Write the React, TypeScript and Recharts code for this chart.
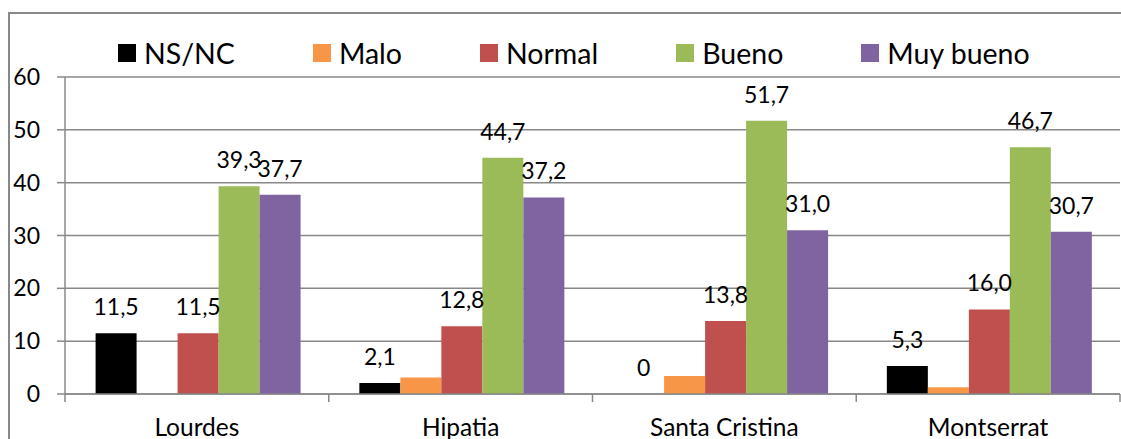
import { BarChart, Bar, XAxis, YAxis, CartesianGrid, Legend, LabelList } from "recharts";

const CATEGORIES = ["Lourdes", "Hipatia", "Santa Cristina", "Montserrat"];
const NS_NC = [11.5, 2.1, 0, 5.3];
const MALO = [0, 3.1, 3.4, 1.3];
const NORMAL = [11.5, 12.8, 13.8, 16.0];
const BUENO = [39.3, 44.7, 51.7, 46.7];
const MUY_BUENO = [37.7, 37.2, 31.0, 30.7];
const Y_TICKS = [0, 10, 20, 30, 40, 50, 60];

const SERIES = [
  { key: "nsnc", name: "NS/NC", values: NS_NC, color: "#000000", labels: true },
  { key: "malo", name: "Malo", values: MALO, color: "#F79646", labels: false },
  { key: "normal", name: "Normal", values: NORMAL, color: "#C0504D", labels: true },
  { key: "bueno", name: "Bueno", values: BUENO, color: "#9BBB59", labels: true },
  { key: "muybueno", name: "Muy bueno", values: MUY_BUENO, color: "#8064A2", labels: true },
];

const data = CATEGORIES.map((name, i) => {
  const row: Record<string, string | number> = { name };
  SERIES.forEach((s) => {
    row[s.key] = s.values[i];
  });
  return row;
});

const W = 1121;
const H = 439;
const FONT = "Lato, 'Liberation Sans', sans-serif";
const GRID = "#888888";
const AXIS_W = 65;
const RIGHT = 1;
const LEGEND_H = 30;
const BAND = (W - AXIS_W - RIGHT) / CATEGORIES.length;

const fmt = (v: any) => (Number(v) === 0 ? "0" : Number(v).toFixed(1).replace(".", ","));

// value labels drawn by hand so the zero bar still gets its "0"
const ValueLabel = (props: any) => {
  const { x, y, width, height, value } = props;
  if (value == null) return null;
  const top = Math.min(Number(y), Number(y) + Number(height || 0));
  return (
    <text x={Number(x) + Number(width) / 2} y={top - 18} textAnchor="middle" fill="#000" fontSize={23} fontFamily={FONT}>
      {fmt(value)}
    </text>
  );
};

const CategoryTick = (props: any) => {
  const { x, y, payload, index } = props;
  return (
    <g>
      <line x1={x - BAND / 2} x2={x - BAND / 2} y1={y} y2={y + 8} stroke={GRID} strokeWidth={1.5} />
      {index === CATEGORIES.length - 1 && (
        <line x1={x + BAND / 2} x2={x + BAND / 2} y1={y} y2={y + 8} stroke={GRID} strokeWidth={1.5} />
      )}
      <text x={x} y={y + 42} textAnchor="middle" fill="#000" fontSize={24.5} fontFamily={FONT}>
        {payload.value}
      </text>
    </g>
  );
};

const LegendContent = () => (
  <div style={{ display: "flex", alignItems: "center", gap: 78, fontFamily: FONT, fontSize: 28.5, lineHeight: `${LEGEND_H}px`, height: LEGEND_H, whiteSpace: "nowrap", color: "#000" }}>
    {SERIES.map((s) => (
      <div key={s.key} style={{ display: "flex", alignItems: "center" }}>
        <span style={{ display: "inline-block", width: 18, height: 18, background: s.color, marginRight: 8 }} />
        <span>{s.name}</span>
      </div>
    ))}
  </div>
);

export default function App() {
  return (
    <div style={{ position: "absolute", left: 0, top: 0, width: W, height: H, overflow: "hidden", background: "#fff" }}>
      <div style={{ position: "absolute", left: 8, top: 12, width: W + 50, height: H + 50, border: `2px solid ${GRID}` }} />
      <div style={{ position: "absolute", left: 0, top: 0 }}>
        <BarChart width={W} height={H} data={data} margin={{ top: 77, right: RIGHT, bottom: 45 - LEGEND_H, left: 0 }} barCategoryGap="11.6%" barGap={0}>
          <CartesianGrid vertical={false} stroke={GRID} strokeWidth={1.5} />
          <XAxis
            dataKey="name"
            axisLine={{ stroke: GRID, strokeWidth: 1.5 }}
            tickLine={false}
            tickSize={0}
            tickMargin={0}
            tick={<CategoryTick />}
            interval={0}
          />
          <YAxis
            width={AXIS_W}
            domain={[0, 60]}
            ticks={Y_TICKS}
            axisLine={{ stroke: GRID, strokeWidth: 1.5 }}
            tickLine={{ stroke: GRID, strokeWidth: 1.5 }}
            tickSize={8}
            tickMargin={17}
            tick={{ fill: "#000", fontSize: 23, fontFamily: FONT }}
          />
          <Legend
            verticalAlign="middle"
            align="center"
            layout="horizontal"
            content={<LegendContent />}
            wrapperStyle={{ top: 38, left: 118, width: "auto" }}
          />
          {SERIES.map((s) => (
            <Bar
              key={s.key}
              dataKey={s.key}
              name={s.name}
              fill={s.color}
              isAnimationActive={false}
              minPointSize={s.labels ? (v: any) => (Number(v) === 0 ? 0.01 : 0) : 0}
            >
              {s.labels && <LabelList dataKey={s.key} content={<ValueLabel />} />}
            </Bar>
          ))}
        </BarChart>
      </div>
    </div>
  );
}
